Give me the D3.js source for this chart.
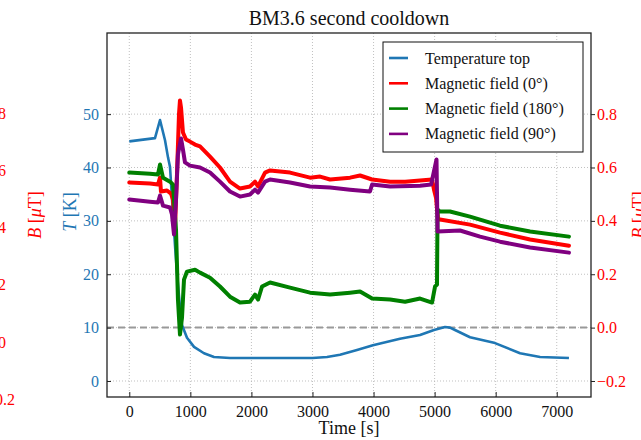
<!DOCTYPE html>
<html>
<head>
<meta charset="utf-8">
<script src="https://cdn.jsdelivr.net/npm/d3@7"></script>
<style>
  html, body { margin: 0; padding: 0; background: #fff; overflow: hidden; }
  text { font-family: "Liberation Serif", "Times New Roman", serif; }
</style>
</head>
<body>
<svg id="chart" width="641" height="440"></svg>
<script>
// ---- data -------------------------------------------------------------
const title = "BM3.6 second cooldown";

// Temperature of the top sensor [K]
const tempTime = [0, 421, 503, 585, 634, 667, 716, 748, 781, 830, 863, 945, 1060, 1223, 1387, 1650,
  3000, 3238, 3451, 3729, 3990, 4433, 4761, 4990, 5170, 5252, 5334, 5580, 5990, 6399, 6727, 7200];
const tempTop = [44.9, 45.5, 48.9, 45.1, 41.9, 40.1, 31.1, 25.5, 20.2, 13.9, 10.5, 8.1, 6.4, 5.2, 4.5, 4.3,
  4.3, 4.5, 4.9, 5.8, 6.7, 7.9, 8.6, 9.55, 10.1, 10.0, 9.55, 8.2, 7.1, 5.2, 4.5, 4.3];

// Magnetic field, sensor at 0 deg [uT]
const field0Time = [0, 339, 470, 503, 519, 617, 683, 716, 748, 781, 814, 830, 847, 879, 929, 994, 1076, 1158,
  1322, 1485, 1649, 1813, 1977, 2059, 2108, 2223, 2305, 2632, 2960, 3124, 3288, 3616, 3779, 3976, 4271, 4517,
  4762, 4958, 4990, 5023, 5056, 5088, 5580, 6071, 6563, 7200];
const field0 = [0.544, 0.540, 0.536, 0.562, 0.510, 0.514, 0.502, 0.480, 0.375, 0.574, 0.800, 0.851, 0.825,
  0.731, 0.705, 0.697, 0.686, 0.679, 0.641, 0.600, 0.547, 0.521, 0.529, 0.547, 0.529, 0.581, 0.589, 0.581,
  0.562, 0.566, 0.555, 0.562, 0.570, 0.555, 0.547, 0.547, 0.551, 0.555, 0.517, 0.487, 0.405, 0.405, 0.386,
  0.356, 0.330, 0.307];

// Magnetic field, sensor at 180 deg [uT]
const field180Time = [0, 339, 470, 503, 552, 667, 716, 765, 797, 830, 863, 896, 945, 1076, 1158, 1322, 1485,
  1649, 1813, 1977, 2059, 2108, 2174, 2305, 2632, 2960, 3288, 3616, 3779, 3976, 4271, 4517, 4762, 4958, 5007,
  5039, 5048, 5088, 5252, 5580, 6071, 6563, 7200];
const field180 = [0.581, 0.577, 0.574, 0.611, 0.562, 0.547, 0.536, 0.367, 0.105, -0.026, 0.037, 0.180, 0.210,
  0.217, 0.206, 0.187, 0.154, 0.116, 0.094, 0.097, 0.124, 0.105, 0.154, 0.169, 0.150, 0.131, 0.124, 0.131,
  0.135, 0.109, 0.105, 0.097, 0.109, 0.094, 0.154, 0.161, 0.442, 0.435, 0.435, 0.416, 0.382, 0.360, 0.341];

// Magnetic field, sensor at 90 deg [uT]
const field90Time = [0, 339, 470, 503, 552, 667, 699, 732, 765, 797, 847, 879, 912, 994, 1158, 1322, 1485,
  1649, 1813, 1977, 2059, 2108, 2223, 2305, 2632, 2960, 3288, 3616, 3941, 3976, 4271, 4762, 4942, 5031, 5048,
  5416, 5744, 6071, 6563, 7200];
const field90 = [0.480, 0.472, 0.469, 0.495, 0.457, 0.450, 0.424, 0.349, 0.480, 0.649, 0.709, 0.667, 0.619,
  0.607, 0.600, 0.581, 0.547, 0.510, 0.491, 0.499, 0.517, 0.506, 0.547, 0.555, 0.544, 0.529, 0.525, 0.517,
  0.510, 0.536, 0.529, 0.532, 0.536, 0.630, 0.360, 0.364, 0.341, 0.322, 0.300, 0.281];

const timeTicks = [0, 1000, 2000, 3000, 4000, 5000, 6000, 7000];
const tempTicks = [0, 10, 20, 30, 40, 50];
const fieldTicks = [-0.2, 0.0, 0.2, 0.4, 0.6, 0.8];

const seriesNames = ["Temperature top", "Magnetic field (0°)", "Magnetic field (180°)", "Magnetic field (90°)"];

// ---- layout ------------------------------------------------------------
const W = 641, H = 440;
const plot = { left: 107, right: 591, top: 33, bottom: 397 };
const colT = "#1f77b4", colR = "#ff0000", colG = "#008000", colP = "#800080";

const svg = d3.select("#chart");

const x = d3.scaleLinear().domain([-365, 7561]).range([plot.left, plot.right]);
const yT = d3.scaleLinear().domain([-3.0, 65.2]).range([plot.bottom, plot.top]);
// field axis on the right shares the grid with the temperature axis
const yB = d3.scaleLinear().domain([-0.26, 1.104]).range([plot.bottom, plot.top]);
// an extra field axis placed beyond the left edge of the figure
const yB2 = d3.scaleLinear().domain([-0.192, 1.08]).range([plot.bottom, plot.top]);

// grid
const grid = svg.append("g").attr("stroke", "#b0b0b0").attr("stroke-width", 0.8)
  .attr("stroke-dasharray", "1,2");
grid.selectAll("line.v").data(timeTicks).join("line")
  .attr("x1", d => x(d)).attr("x2", d => x(d)).attr("y1", plot.top).attr("y2", plot.bottom);
grid.selectAll("line.h").data(tempTicks).join("line")
  .attr("x1", plot.left).attr("x2", plot.right).attr("y1", d => yT(d)).attr("y2", d => yT(d));

// zero line of the field
svg.append("line")
  .attr("x1", plot.left).attr("x2", plot.right)
  .attr("y1", yB(0)).attr("y2", yB(0))
  .attr("stroke", "#999").attr("stroke-width", 2).attr("stroke-dasharray", "7,4");

// clip for the data
svg.append("clipPath").attr("id", "clip").append("rect")
  .attr("x", plot.left).attr("y", plot.top)
  .attr("width", plot.right - plot.left).attr("height", plot.bottom - plot.top);

const dataG = svg.append("g").attr("clip-path", "url(#clip)");

const lineT = d3.line().x((d, i) => x(tempTime[i])).y(d => yT(d));
const lineB = times => d3.line().x((d, i) => x(times[i])).y(d => yB(d));

dataG.append("path").datum(tempTop).attr("d", lineT)
  .attr("fill", "none").attr("stroke", colT).attr("stroke-width", 2.6)
  .attr("stroke-linejoin", "round");

[[field0, field0Time, colR], [field180, field180Time, colG], [field90, field90Time, colP]]
  .forEach(([vals, times, c]) => {
    dataG.append("path").datum(vals).attr("d", lineB(times))
      .attr("fill", "none").attr("stroke", c).attr("stroke-width", 4)
      .attr("stroke-linejoin", "round").attr("stroke-linecap", "round");
  });

// frame
svg.append("rect").attr("x", plot.left).attr("y", plot.top)
  .attr("width", plot.right - plot.left).attr("height", plot.bottom - plot.top)
  .attr("fill", "none").attr("stroke", "#222").attr("stroke-width", 1.3);

// x axis (ticks inside)
const xAxis = svg.append("g").attr("transform", `translate(0,${plot.bottom})`)
  .call(d3.axisBottom(x).tickValues(timeTicks).tickFormat(d3.format("d"))
    .tickSizeInner(-5).tickSizeOuter(0).tickPadding(9));
xAxis.select(".domain").remove();
xAxis.selectAll("line").attr("stroke", "#222");
xAxis.selectAll("text").attr("font-size", 16).attr("fill", "#111")
  .attr("font-family", "Liberation Serif, serif");

// temperature axis (left, ticks inside)
const tAxis = svg.append("g").attr("transform", `translate(${plot.left},0)`)
  .call(d3.axisLeft(yT).tickValues(tempTicks).tickFormat(d3.format("d"))
    .tickSizeInner(-4).tickSizeOuter(0).tickPadding(8));
tAxis.select(".domain").remove();
tAxis.selectAll("line").attr("stroke", "#222");
tAxis.selectAll("text").attr("font-size", 16).attr("fill", colT)
  .attr("font-family", "Liberation Serif, serif");

// field axis (right, ticks outside)
const fmtB = v => (v < 0 ? "\u2212" : "") + Math.abs(v).toFixed(1);
const bAxis = svg.append("g").attr("transform", `translate(${plot.right},0)`)
  .call(d3.axisRight(yB).tickValues(fieldTicks).tickFormat(fmtB)
    .tickSizeInner(4).tickSizeOuter(0).tickPadding(2));
bAxis.select(".domain").remove();
bAxis.selectAll("line").attr("stroke", "#222");
bAxis.selectAll("text").attr("font-size", 16).attr("fill", colR)
  .attr("font-family", "Liberation Serif, serif");

// second field axis beyond the left edge
const b2Axis = svg.append("g").attr("transform", `translate(-20,0)`)
  .call(d3.axisRight(yB2).tickValues(fieldTicks).tickFormat(fmtB)
    .tickSizeInner(4).tickSizeOuter(0).tickPadding(2));
b2Axis.select(".domain").remove();
b2Axis.selectAll("line").attr("stroke", "#222");
b2Axis.selectAll("text").attr("font-size", 16).attr("fill", colR)
  .attr("font-family", "Liberation Serif, serif");

// axis titles
function yLabel(xPos, yPos, rot, color, parts) {
  const t = svg.append("text")
    .attr("transform", `translate(${xPos},${yPos}) rotate(${rot})`)
    .attr("text-anchor", "middle").attr("font-size", 18).attr("fill", color);
  parts.forEach(([s, it]) => t.append("tspan").attr("font-style", it ? "italic" : "normal").text(s));
}
yLabel(41, 215, -90, colR, [["B", true], [" [", false], ["\u03bc", true], ["T]", false]]);
yLabel(76, 212, -90, colT, [["T", true], [" [K]", false]]);
yLabel(645, 215, -90, colR, [["B", true], [" [", false], ["\u03bc", true], ["T]", false]]);

svg.append("text").attr("x", (plot.left + plot.right) / 2).attr("y", 434)
  .attr("text-anchor", "middle").attr("font-size", 18).attr("fill", "#111").text("Time [s]");

svg.append("text").attr("x", (plot.left + plot.right) / 2).attr("y", 25)
  .attr("text-anchor", "middle").attr("font-size", 20).attr("fill", "#111").text(title);

// legend
const leg = svg.append("g");
leg.append("rect").attr("x", 383).attr("y", 42).attr("width", 200).attr("height", 110)
  .attr("fill", "#fff").attr("stroke", "#111").attr("stroke-width", 1);
const legColors = [colT, colR, colG, colP];
seriesNames.forEach((name, i) => {
  const yy = 58 + i * 25.3;
  leg.append("line").attr("x1", 389).attr("x2", 408).attr("y1", yy).attr("y2", yy)
    .attr("stroke", legColors[i]).attr("stroke-width", 2.6);
  leg.append("text").attr("x", 425).attr("y", yy + 5.5).attr("font-size", 16)
    .attr("fill", "#111").text(name);
});
</script>
</body>
</html>
